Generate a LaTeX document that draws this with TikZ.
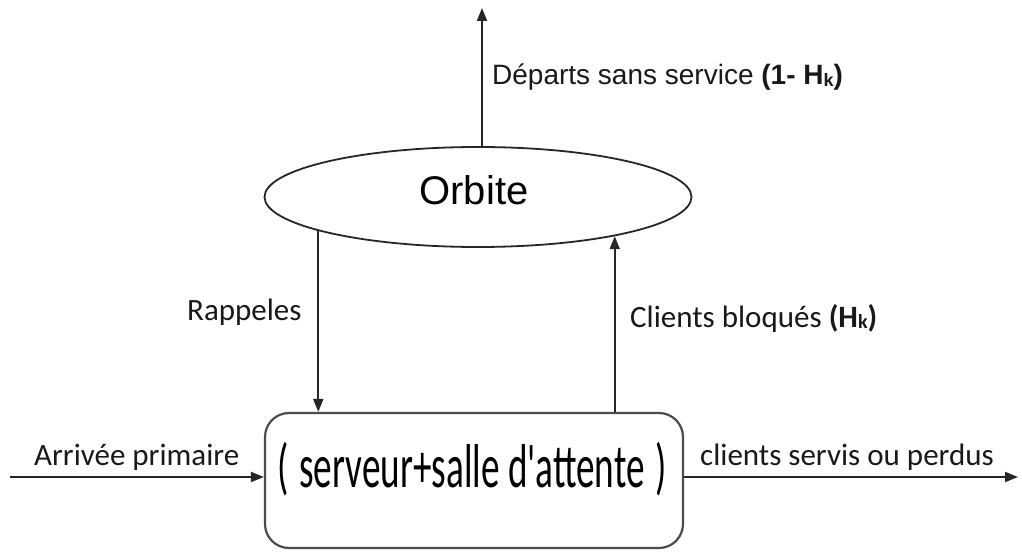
\documentclass[tikz,border=0pt]{standalone}
\usepackage{fontspec}
\setmainfont{Liberation Sans}
\newfontfamily\calib{Carlito}
\newfontfamily\calibcond[FakeStretch=0.6]{Carlito}
\usetikzlibrary{shapes.geometric,arrows.meta}
\newcommand{\subk}[1]{\raisebox{-2pt}{\fontsize{#1}{#1}\selectfont k}}
\begin{document}
\begin{tikzpicture}[x=1pt,y=1pt,
  conn/.style={draw=black!85,line width=2pt,-{Triangle[length=13pt,width=10pt]}},
  lbl/.style={inner sep=0pt,anchor=base west,text=black!90},
  arial/.style={font=\fontsize{28}{32}\selectfont},
  cal/.style={font=\calib\fontsize{31}{36}\selectfont}]
\useasboundingbox (0,0) rectangle (1022,552);
\node[ellipse,draw=black!85,line width=1.8pt,minimum width=427pt,minimum height=100pt,inner sep=0pt] (orb) at (478,355) {};
\node[inner sep=0pt,anchor=base,font=\fontsize{40}{46}\selectfont] (orbt) at (474,347) {Orbite};
\node[draw=black!70,line width=2.2pt,rounded corners=24pt,minimum width=418pt,minimum height=135pt,inner sep=0pt] (srv) at (474,71.5) {};
\node[inner sep=0pt,anchor=base,font=\calibcond\fontsize{62}{68}\selectfont] (srvt) at (472,65) {(\,serveur+salle d'attente\,)};
\coordinate (top) at (482,544);
\coordinate (in) at (10,75);
\coordinate (out) at (1018,75);
\draw[conn] (orb.north -| top) -- (top);
\draw[conn] (orb.192) -- (orb.192 |- srv.north);
\draw[conn] (srv.north -| orb.344.7) -- (orb.344.7);
\draw[conn] (in) -- (in -| srv.west);
\draw[conn] (out -| srv.east) -- (out);
\node[lbl,arial] (dep) at (492,467) {Départs sans service \textbf{(1- H\subk{18})}};
\node[lbl,cal] (rap) at (187,231) {Rappeles};
\node[lbl,cal] (blq) at (630,225) {Clients bloqués \textbf{(H\subk{20})}};
\node[lbl,cal] (arr) at (34,87) {Arrivée primaire};
\node[lbl,cal] (cli) at (700,87) {clients servis ou perdus};
\end{tikzpicture}
\end{document}
